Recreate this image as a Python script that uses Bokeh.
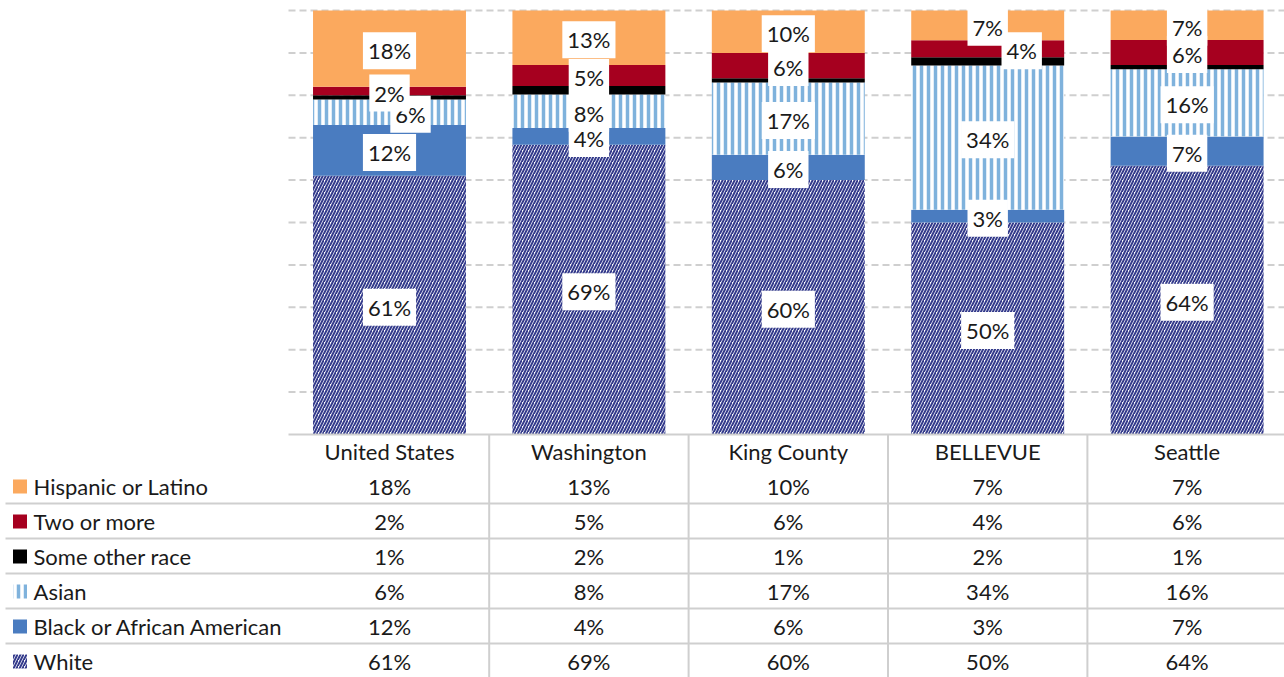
from bokeh.plotting import figure
from bokeh.models import Range1d, ColumnDataSource
from bokeh.embed import file_html
from bokeh.resources import INLINE
from bokeh.core.properties import value

# ---------------- data ----------------
categories = ["United States", "Washington", "King County", "BELLEVUE", "Seattle"]
white = [61, 69, 60, 50, 64]
black = [12, 4, 6, 3, 7]
asian = [6, 8, 17, 34, 16]
other = [1, 2, 1, 2, 1]
two_more = [2, 5, 6, 4, 6]
hispanic = [18, 13, 10, 7, 7]
grid_ticks = [10, 20, 30, 40, 50, 60, 70, 80, 90, 100]

# stacking order bottom -> top
stack_names = ["White", "Black or African American", "Asian", "Some other race", "Two or more", "Hispanic or Latino"]
stack_values = [white, black, asian, other, two_more, hispanic]
# table order top -> bottom
table_names = ["Hispanic or Latino", "Two or more", "Some other race", "Asian", "Black or African American", "White"]

# ---------------- styles ----------------
styles = {
    "White": dict(fill_color="white", hatch_pattern="/", hatch_color="#343b8c", hatch_scale=6, hatch_weight=2),
    "Black or African American": dict(fill_color="#4a7cc0"),
    "Asian": dict(fill_color="white", hatch_pattern="|", hatch_color="#7fb2dc", hatch_scale=7, hatch_weight=3.5),
    "Some other race": dict(fill_color="#000000"),
    "Two or more": dict(fill_color="#a6001f"),
    "Hispanic or Latino": dict(fill_color="#fba95e"),
}
label_xoff = {("Asian", 0): 21, ("Two or more", 3): 34}

FONT = value("Lato")
FS = value("22px")
TXT = "#1a1a1a"
GRID = "#cfcfcf"

W, H = 1284, 677
ORIGIN = 0  # page offset of the figure
# page-pixel layout helpers
COL_PX = 199.4
X_LEFT_PX = 289.3
ZERO_PX = 434.0
FULL_PX = 424.0


def px(xp):
    return (xp - X_LEFT_PX) / COL_PX


def py(yp):
    return (ZERO_PX - yp) / FULL_PX


X0, X1 = px(ORIGIN), px(ORIGIN + W)
Y0, Y1 = py(ORIGIN + H), py(ORIGIN)

p = figure(width=W, height=H, x_range=Range1d(X0, X1), y_range=Range1d(Y0, Y1),
           output_backend="svg", toolbar_location=None, min_border=0,
           x_axis_location=None, y_axis_location=None)
p.grid.visible = False
p.outline_line_color = None
p.background_fill_color = "white"
p.border_fill_color = "white"

# gridlines
gy = [t / 100 for t in grid_ticks]
p.segment(x0=[px(288)] * len(gy), x1=[X1] * len(gy), y0=gy, y1=gy,
          line_color=GRID, line_width=2, line_dash="7 4")

# 100% stacked bars (each column normalised to its total)
xs = [i + 0.5 for i in range(len(categories))]
totals = [sum(col) for col in zip(*stack_values)]
bottoms = [0.0] * len(categories)
lab_x, lab_y, lab_t, lab_off = [], [], [], []
for name, vals in zip(stack_names, stack_values):
    fr = [v / t for v, t in zip(vals, totals)]
    tops = [b + f for b, f in zip(bottoms, fr)]
    src = ColumnDataSource(dict(x=xs, bottom=bottoms, top=tops))
    p.vbar(x="x", bottom="bottom", top="top", width=0.767, source=src,
           line_color=None, **styles[name])
    if name != "Some other race":
        for i, (b, f, v) in enumerate(zip(bottoms, fr, vals)):
            lab_x.append(xs[i])
            lab_y.append(b + f / 2)
            lab_t.append(f"{v}%")
            lab_off.append(label_xoff.get((name, i), 0))
    bottoms = tops

p.text(x=lab_x, y=lab_y, text=lab_t, x_offset=lab_off, y_offset=2, text_font=FONT,
       text_font_size=FS, text_color=TXT, text_align="center",
       text_baseline="middle", background_fill_color="white", padding=5)

# axis line & table structure
p.segment(x0=[px(288)], x1=[X1], y0=[0], y1=[0], line_color=GRID, line_width=2)
sep_x = [1, 2, 3, 4]
p.segment(x0=sep_x, x1=sep_x, y0=[0] * 4, y1=[Y0] * 4, line_color=GRID, line_width=2)
row_line_px = [503, 538, 573, 608, 643]
p.segment(x0=[px(5)] * 5, x1=[X1] * 5, y0=[py(v) for v in row_line_px],
          y1=[py(v) for v in row_line_px], line_color=GRID, line_width=2)

# header
p.text(x=xs, y=[py(451)] * len(xs), text=categories, text_font=FONT,
       text_font_size=FS, text_color=TXT, text_align="center",
       text_baseline="middle")

# table rows
lookup = dict(zip(stack_names, stack_values))
row_px = [486, 521, 556, 591, 626, 661]
for r, name in enumerate(table_names):
    yy = py(row_px[r])
    p.rect(x=[px(19.5)], y=[yy], width=14, height=14, width_units="screen",
           height_units="screen", line_color=None, **styles[name])
    p.text(x=[px(33)], y=[yy], text=[name], text_font=FONT, text_font_size=FS,
           text_color=TXT, text_align="left", text_baseline="middle")
    vals = lookup[name]
    p.text(x=xs, y=[yy] * len(xs), text=[f"{v}%" for v in vals], text_font=FONT,
           text_font_size=FS, text_color=TXT, text_align="center",
           text_baseline="middle")

open("out.html", "w").write(file_html(p, INLINE))
